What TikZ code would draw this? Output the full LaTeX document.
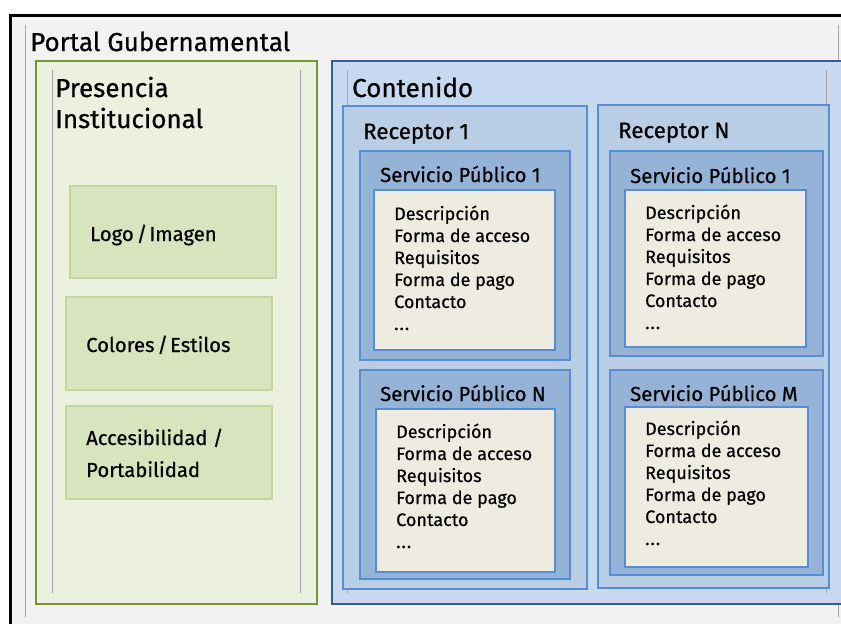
\documentclass[tikz,border=0pt]{standalone}
\usepackage{fontspec}
\setmainfont{Fira Sans}[FakeBold=0.6,AutoFakeBold=0]
\newcommand\svclist[3]{%
  \node[itm] (#1-0) at (#2,#3) {Descripción};
  \node[itm] (#1-1) at (#2,#3+22) {Forma de acceso};
  \node[itm] (#1-2) at (#2,#3+44) {Requisitos};
  \node[itm] (#1-3) at (#2,#3+66) {Forma de pago};
  \node[itm] (#1-4) at (#2,#3+88) {Contacto};
  \node[itm] (#1-5) at (#2,#3+110) {.\kern1pt.\kern1pt.};
}
\begin{document}
\begin{tikzpicture}[x=1pt,y=-1pt,
  panelgreen/.style={draw=grnB, fill=grnF, line width=2pt, anchor=north west, inner sep=0pt},
  boxgreen/.style={draw=gbxB, fill=gbxF, line width=2pt, anchor=north west, inner sep=0pt},
  panelblue/.style={draw=bluB, fill=bluF, line width=2pt, anchor=north west, inner sep=0pt},
  recbox/.style={draw=medB, fill=recF, line width=2pt, anchor=north west, inner sep=0pt},
  spbox/.style={draw=medB, fill=spF, line width=2pt, anchor=north west, inner sep=0pt},
  crbox/.style={draw=medB, fill=crF, line width=2pt, anchor=north west, inner sep=0pt},
  guide/.style={draw=gryL, line width=0.8pt},
  lbl/.style={anchor=base west, inner sep=0pt, text=black},
  big/.style={lbl, font=\fontsize{26}{30}\selectfont},
  mid/.style={lbl, font=\fontsize{22.3}{26}\selectfont},
  sml/.style={lbl, font=\fontsize{20.3}{24}\selectfont},
  itm/.style={lbl, font=\fontsize{18}{22}\selectfont}
]
\definecolor{bgG}{HTML}{F2F2F2}
\definecolor{grnB}{HTML}{77933C}
\definecolor{grnF}{HTML}{EBF1DE}
\definecolor{gbxB}{HTML}{C3D69B}
\definecolor{gbxF}{HTML}{D7E4BD}
\definecolor{bluB}{HTML}{385D8A}
\definecolor{bluF}{HTML}{C6D9F1}
\definecolor{medB}{HTML}{558ED5}
\definecolor{recF}{HTML}{B9CDE5}
\definecolor{spF}{HTML}{95B3D7}
\definecolor{crF}{HTML}{EEECE1}
\definecolor{gryL}{HTML}{A6A6A6}
\useasboundingbox (0,0) rectangle (841,624);
\clip (0,0) rectangle (841,624);
\fill[white] (0,0) rectangle (841,624);
% outer frame
\node[draw=black, fill=bgG, line width=2.5pt, anchor=north west, minimum width=850pt, minimum height=630pt, inner sep=0pt] (frame) at (9,14) {};
\coordinate (g1a) at (25,25); \coordinate (g1b) at (25,617);
\draw[guide] (g1a) -- (g1b);
\coordinate (g2a) at (838,25); \coordinate (g2b) at (838,617);
\draw[guide] (g2a) -- (g2b);
\node[big] (title) at (30,51) {Portal Gubernamental};
% green panel
\node[panelgreen, minimum width=281pt, minimum height=543pt] (pres) at (35,60) {};
\coordinate (g3a) at (52,70); \coordinate (g3b) at (52,593);
\draw[guide] (g3a) -- (g3b);
\coordinate (g4a) at (300,70); \coordinate (g4b) at (300,593);
\draw[guide] (g4a) -- (g4b);
\node[big] (pres1) at (55,97) {Presencia};
\node[big] (pres2) at (55,128) {Institucional};
\node[boxgreen, minimum width=206pt, minimum height=92pt] (logo) at (69,185) {};
\node[boxgreen, minimum width=206pt, minimum height=93pt] (colo) at (65,296) {};
\node[boxgreen, minimum width=206pt, minimum height=93pt] (acce) at (65,405) {};
\node[sml] (logot) at (90,241) {Logo\kern3pt/\kern2pt Imagen};
\node[sml] (colot) at (86,352) {Colores\kern3pt/\kern2pt Estilos};
\node[sml] (acct1) at (86,445) {Accesibilidad /};
\node[sml] (acct2) at (86,477) {Portabilidad};
% blue panel
\node[panelblue, minimum width=530pt, minimum height=543pt] (cont) at (331,60) {};
\coordinate (g5a) at (347,70); \coordinate (g5b) at (347,593);
\draw[guide] (g5a) -- (g5b);
\coordinate (g6a) at (826,70); \coordinate (g6b) at (826,593);
\draw[guide] (g6a) -- (g6b);
\node[big] (contt) at (352,97) {Contenido};
\node[recbox, minimum width=244pt, minimum height=483pt] (rec1) at (342,105) {};
\node[recbox, minimum width=231pt, minimum height=483pt] (recN) at (597,104) {};
\node[mid] (rec1t) at (363,139) {Receptor 1};
\node[mid] (recNt) at (618,138) {Receptor N};
\node[spbox, minimum width=210pt, minimum height=209pt] (sp11) at (359,150) {};
\node[spbox, minimum width=210pt, minimum height=209pt] (sp1N) at (359,369) {};
\node[spbox, minimum width=213pt, minimum height=205pt] (spN1) at (609,150) {};
\node[spbox, minimum width=213pt, minimum height=205pt] (spNM) at (609,369) {};
\node[sml] (sp11t) at (380,182) {Servicio Público 1};
\node[sml] (sp1Nt) at (380,401) {Servicio Público N};
\node[sml] (spN1t) at (630,183) {Servicio Público 1};
\node[sml] (spNMt) at (630,401) {Servicio Público M};
\node[crbox, minimum width=181pt, minimum height=160pt] (cr11) at (373,189) {};
\node[crbox, minimum width=179pt, minimum height=163pt] (cr1N) at (375,408) {};
\node[crbox, minimum width=181pt, minimum height=157pt] (crN1) at (624,189) {};
\node[crbox, minimum width=183pt, minimum height=160pt] (crNM) at (624,406) {};
\svclist{ia}{394}{220}
\svclist{ib}{396}{438}
\svclist{ic}{645}{219}
\svclist{id}{645}{435}
\end{tikzpicture}
\end{document}
